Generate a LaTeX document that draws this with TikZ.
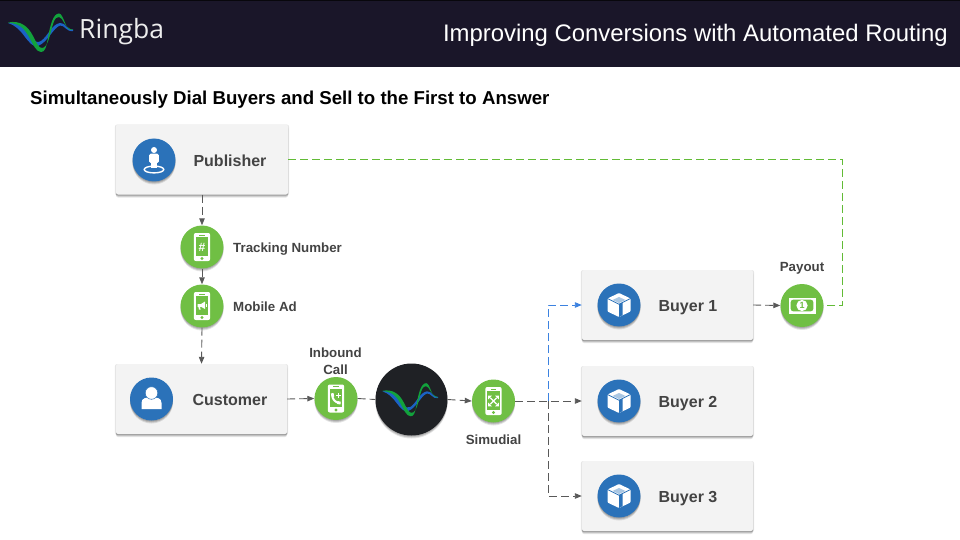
\documentclass[tikz,border=0pt]{standalone}
\usepackage{fontspec}
\setmainfont{Liberation Sans}
\newfontfamily\logofont{Open Sans}
\usetikzlibrary{arrows.meta,shadows}
\definecolor{hdr}{HTML}{1A1629}
\definecolor{txt}{HTML}{434343}
\definecolor{boxfill}{HTML}{F3F3F3}
\definecolor{grn}{HTML}{70BF44}
\definecolor{linegreen}{HTML}{62BB36}
\definecolor{blu}{HTML}{2B72B9}
\definecolor{conn}{HTML}{595959}
\definecolor{bluedash}{HTML}{3C82E0}
\definecolor{hubc}{HTML}{1F2125}
\definecolor{lgreen}{HTML}{12A23C}
\definecolor{lblue}{HTML}{1B62C4}
\tikzset{
  softshadow/.style={
    drop shadow={shadow xshift=0pt,shadow yshift=-1pt,opacity=.14,fill=black},
    drop shadow={shadow xshift=0pt,shadow yshift=-2pt,opacity=.14,fill=black},
    drop shadow={shadow xshift=0pt,shadow yshift=-3pt,opacity=.10,fill=black}},
  card/.style={rectangle,rounded corners=2pt,fill=boxfill,minimum width=171pt,minimum height=70pt,inner sep=0pt,
    drop shadow={shadow xshift=0pt,shadow yshift=-.5pt,shadow scale=1.012,opacity=.10,fill=black},
    softshadow},
  bluedisc/.style={circle,fill=blu,minimum size=43pt,inner sep=0pt,softshadow},
  greendisc/.style={circle,fill=grn,minimum size=43pt,inner sep=0pt,softshadow},
  hubdisc/.style={circle,fill=hubc,minimum size=72pt,inner sep=0pt,softshadow},
  cardtext/.style={text=txt,font=\bfseries\fontsize{16}{18}\selectfont,inner sep=0pt},
  smalltext/.style={text=txt,font=\bfseries\fontsize{13.3}{16.5}\selectfont,inner sep=0pt,align=center},
  flow/.style={draw=conn,line width=.9pt,dash pattern=on 8pt off 4pt,-{Triangle[length=7pt,width=5.5pt]}},
  flowplain/.style={draw=conn,line width=.9pt,dash pattern=on 8pt off 4pt},
  flowblue/.style={draw=bluedash,line width=.9pt,dash pattern=on 8pt off 4pt,-{Triangle[length=7pt,width=5.5pt]}},
  flowgreen/.style={draw=linegreen,line width=1.1pt,dash pattern=on 8pt off 4pt},
}
\newcommand{\wave}{%
  \fill[lblue] (8,23) .. controls (20,21) and (26,30) .. (32,38)
    .. controls (35,42) and (38,43) .. (41,41)
    .. controls (48,36) and (52,24) .. (60,23)
    .. controls (66,22.5) and (66,30) .. (73,29.5)
    -- (73,31) .. controls (66,32) and (65,25) .. (60,25.5)
    .. controls (53,28) and (48,42) .. (38,46)
    .. controls (33,47.5) and (29,42) .. (25,37)
    .. controls (20,30) and (15,25) .. (8,23) -- cycle;
  \fill[lgreen] (8,22.5) .. controls (20,20) and (28,26) .. (33,36)
    .. controls (37,44) and (39,48) .. (42,48)
    .. controls (48,48) and (50,34) .. (53,24)
    .. controls (55,17.5) and (57,17) .. (59,17)
    .. controls (63,17) and (64,28) .. (73,30)
    .. controls (65,32) and (64,13.5) .. (59,13.5)
    .. controls (53,13.5) and (50,26) .. (48,38)
    .. controls (46,48) and (45,52) .. (41,52)
    .. controls (36,52) and (33,44) .. (29,37)
    .. controls (24,28) and (20,24) .. (8,22.5) -- cycle;
}
\newcommand{\phoneicon}{%
  \fill[white,rounded corners=2pt] (-8.2,-14) rectangle (8.2,14);
  \fill[grn] (-6.3,-9.8) rectangle (6.3,8.8);
  \fill[grn] (-2.6,-12.3) rectangle (2.6,-11.5);
  \fill[grn] (0,11.5) circle (1.7);
}
\begin{document}
\begin{tikzpicture}[x=1pt,y=-1pt]
\useasboundingbox (0,0) rectangle (960,540);
% header
\fill[hdr] (0,0) rectangle (960,67);
\fill[black!70!hdr] (0,0) rectangle (960,1);
\wave
\node[anchor=base west,inner sep=0pt,text=white!93!black,font=\logofont\fontsize{26.5}{30}\selectfont] (brand) at (79,39) {Ringba};
\node[anchor=base east,inner sep=0pt,text=white,font=\fontsize{23.9}{28}\selectfont] (title) at (948,42) {Improving Conversions with Automated Routing};
\node[anchor=base west,inner sep=0pt,text=black,font=\bfseries\fontsize{18.65}{22}\selectfont] (heading) at (30,104.5) {Simultaneously Dial Buyers and Sell to the First to Answer};
% cards
\node[card,minimum width=172pt] (pub) at (202,159.5) {};
\node[card] (cust) at (201.5,399) {};
\node[card] (b1) at (667.5,305) {};
\node[card] (b2) at (667.5,401) {};
\node[card] (b3) at (667.5,496) {};
% discs
\node[bluedisc] (pubd) at (154,160) {};
\node[bluedisc] (custd) at (151.5,399) {};
\node[bluedisc] (b1d) at (619,305) {};
\node[bluedisc] (b2d) at (619,401) {};
\node[bluedisc] (b3d) at (619,496) {};
\node[greendisc] (track) at (202,247) {};
\node[greendisc] (mob) at (202,306) {};
\node[greendisc] (inb) at (336,398.5) {};
\node[hubdisc] (hub) at (411.5,399.5) {};
\node[greendisc] (sim) at (493.5,401) {};
\node[greendisc] (pay) at (802,305.5) {};
% texts
\node[cardtext] (pubt) at (230,160.5) {Publisher};
\node[cardtext] (custt) at (230,400) {Customer};
\node[cardtext] (b1t) at (688,308) {Buyer 1};
\node[cardtext] (b2t) at (688,404) {Buyer 2};
\node[cardtext] (b3t) at (688,499) {Buyer 3};
\node[smalltext,anchor=west] (trackt) at (233,249) {Tracking Number};
\node[smalltext,anchor=west] (mobt) at (233,306.5) {Mobile Ad};
\node[smalltext] (inbt) at (335.5,361) {Inbound\\Call};
\node[smalltext] (simt) at (493.5,439.5) {Simudial};
\node[smalltext] (payt) at (802,268.5) {Payout};
% connectors
\coordinate (junction) at (548,401);
\coordinate (corner) at (842.8,305.5);
\draw[flow] (pub.south) -- (track.north);
\draw[flow] (track.south) -- (mob.north);
\draw[flow] (mob.south) -- (cust.north);
\draw[flow] (cust.east) -- (inb.west);
\draw[flowplain] (inb.east) -- (hub.west);
\draw[flow] (hub.east) -- (sim.west);
\draw[flowblue] (junction) |- (b1.west);
\draw[flow] (sim.east) -- (b2.west);
\draw[flow] (junction) |- (b3.west);
\draw[flow] (b1.east) -- (pay.west);
\draw[flowgreen] (pub.east) -| (corner) -- (pay.east);
% hub logo
\begin{scope}[shift={(hub.center)},scale=.86,shift={(-42,-32.5)}]
\wave
\end{scope}
% publisher icon
\begin{scope}[shift={(pubd.center)}]
\fill[white] (0,-10) circle (3);
\fill[white,rounded corners=1.5pt] (-4.8,-6.3) rectangle (4.8,3);
\fill[white] (-3,2) rectangle (3,8);
\draw[white,line width=1.4pt] (0,9.5) ellipse (9.8 and 3.4);
\end{scope}
% customer icon
\begin{scope}[shift={(custd.center)}]
\fill[white] (-10,10) -- (-10,4) .. controls (-10,-1.5) and (-5,-1.5) .. (0,-1.5) .. controls (5,-1.5) and (10,-1.5) .. (10,4) -- (10,10) -- cycle;
\fill[white,draw=blu,line width=.5pt] (0,-6) circle (6.3);
\end{scope}
% cube icons
\foreach \d in {b1d,b2d,b3d}{
\begin{scope}[shift={(\d.center)}]
\fill[white,rounded corners=.8pt] (0,-12) -- (11.5,-6.5) -- (11.5,6.5) -- (0,12) -- (-11.5,6.5) -- (-11.5,-6.5) -- cycle;
\fill[blu!40!white] (0,-8) -- (6.5,-5) -- (0,-2) -- (-6.5,-5) -- cycle;
\draw[blu,line width=.8pt] (-11.5,-6.5) -- (0,-.8) -- (11.5,-6.5);
\fill[blu] (0,-.8) -- (3.5,-2.5) -- (3.5,10.2) -- (0,12) -- cycle;
\end{scope}}
% phones
\begin{scope}[shift={(track.center)}]
\phoneicon
\node[inner sep=0pt,text=white,font=\bfseries\fontsize{12}{12}\selectfont] (hash) at (0,0) {\#};
\end{scope}
\begin{scope}[shift={(mob.center)}]
\phoneicon
\fill[white] (-4.5,-2) -- (-1,-2) -- (3,-4.5) -- (3,3) -- (-1,.8) -- (-2,.8) -- (-1.4,3.6) -- (-3,3.6) -- (-3.6,.8) -- (-4.5,.8) -- cycle;
\draw[white,line width=.7pt] (4.3,-2) -- (4.3,.6);
\end{scope}
\begin{scope}[shift={(inb.center)}]
\phoneicon
\draw[white,line width=2pt,line cap=round] (-3.8,-3.5) .. controls (-3.6,1) and (-1,3.5) .. (3.2,4.6);
\fill[white] (-5.2,-5) -- (-2.5,-5.5) -- (-1.8,-2) -- (-4,-1.2) -- cycle;
\fill[white] (1.5,2.5) -- (4.8,3.3) -- (4.4,6) -- (1,5.4) -- cycle;
\draw[white,line width=1.1pt] (2.3,-5.4) -- (2.3,-.8) (0,-3.1) -- (4.6,-3.1);
\end{scope}
\begin{scope}[shift={(sim.center)}]
\phoneicon
\draw[white,line width=1.3pt] (-3.2,-3.2) -- (3.2,3.2) (-3.2,3.2) -- (3.2,-3.2);
\fill[white] (-5.3,-5.3) -- (-1.6,-5.3) -- (-5.3,-1.6) -- cycle;
\fill[white] (5.3,-5.3) -- (1.6,-5.3) -- (5.3,-1.6) -- cycle;
\fill[white] (-5.3,5.3) -- (-1.6,5.3) -- (-5.3,1.6) -- cycle;
\fill[white] (5.3,5.3) -- (1.6,5.3) -- (5.3,1.6) -- cycle;
\end{scope}
% money icon
\begin{scope}[shift={(pay.center)}]
\fill[white] (-13.5,-8) rectangle (13.5,8);
\fill[grn,rounded corners=2.5pt] (-11.3,-5.8) rectangle (11.3,5.8);
\fill[white] (0,0) circle (5.6);
\node[inner sep=0pt,text=grn,font=\bfseries\fontsize{9}{9}\selectfont] (one) at (0,0) {1};
\end{scope}
\end{tikzpicture}
\end{document}
